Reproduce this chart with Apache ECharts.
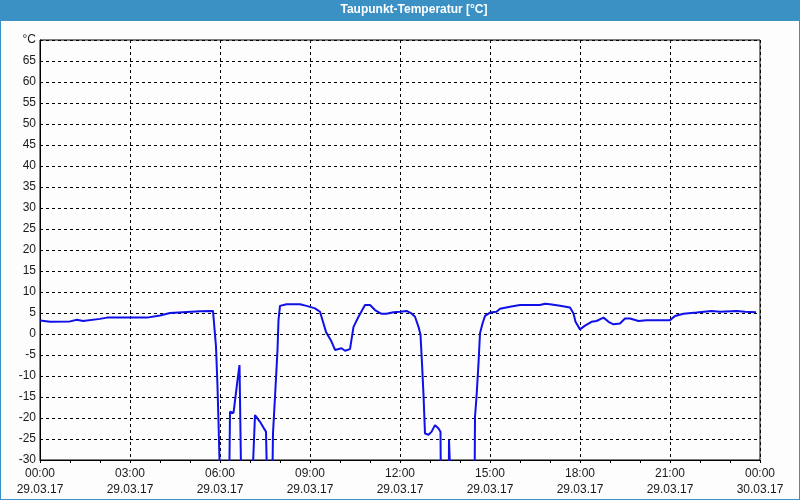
<!DOCTYPE html>
<html>
<head>
<meta charset="utf-8">
<script src="https://cdn.jsdelivr.net/npm/echarts@6/dist/echarts.min.js"></script>
<style>
html,body{margin:0;padding:0;background:#fcfdfc;}
#c{width:800px;height:500px;}
</style>
</head>
<body>
<div id="c"></div>
<script>
// Time in minutes since 29.03.17 00:00
var times = [0,20,60,74,86,120,134,214,240,260,320,346,350,352,355,357,359,362,
  378,380,387,391,395,399,401,403,
  423,430,440,448,452,455,
  464,466,470,475,477,480,493,520,533,550,560,567,572,583,590,603,610,620,627,637,650,660,670,683,693,707,720,733,743,750,757,761,764,767,770,777,783,790,797,801,802,
  817.5,818,822,822.5,
  869,870,873,877,880,885,890,900,913,920,940,960,1000,1010,1020,1040,1060,1067,1071,1080,1090,1103,1113,1127,1137,1147,1160,1170,1180,1197,1213,1260,1270,1287,1313,1343,1360,1393,1410,1432];
// Dew point in °C (values below -30 are off the chart)
var values = [3.2,2.9,3.0,3.4,3.1,3.6,3.9,3.9,4.4,5.0,5.4,5.5,5.5,-3,-12.5,-21,-30,-40,
  -40,-18.5,-18.8,-14.9,-11,-7.4,-7.8,-40,
  -40,-19.3,-20.9,-22.5,-23.3,-40,
  -40,-23.6,-15,-3.8,3.3,6.7,7.1,7.1,6.7,6.1,5.3,2.5,0.5,-1.8,-3.8,-3.4,-4.0,-3.6,1.7,4.1,6.9,6.9,5.7,4.8,4.8,5.2,5.3,5.5,4.9,4.1,1.7,-0.2,-7,-14.5,-23.7,-24,-23.3,-21.7,-22.5,-23.3,-40,
  -40,-25.2,-25.2,-40,
  -40,-19.7,-15,-7,0.2,2.5,4.3,5.1,5.3,6.0,6.5,6.9,6.9,7.2,7.1,6.7,6.3,4.9,2.9,1.1,2.0,2.9,3.1,3.9,2.9,2.3,2.5,3.7,3.7,3.1,3.3,3.3,4.3,4.8,5.1,5.5,5.3,5.5,5.3,5.2];
var dateLabels = ['29.03.17','30.03.17'];
var titleText = 'Taupunkt-Temperatur [°C]';
var unitLabel = '°C';

var data = times.map(function(t,i){return [t, values[i]];});
function pad(n){return (n<10?'0':'')+n;}

var chart = echarts.init(document.getElementById('c'), null, {renderer:'canvas'});
chart.setOption({
  backgroundColor:'#fcfdfc',
  animation:false,
  graphic:[
    {type:'rect', left:0, top:0, shape:{width:800,height:21}, style:{fill:'#3c91c4'}, z:10},
    {type:'rect', left:0, top:0, shape:{width:1,height:500}, style:{fill:'#3c91c4'}, z:10},
    {type:'rect', left:799, top:0, shape:{width:1,height:500}, style:{fill:'#3c91c4'}, z:10},
    {type:'rect', left:0, top:499, shape:{width:800,height:1}, style:{fill:'#3c91c4'}, z:10},
    {type:'text', x:414, y:10, style:{text:titleText, fill:'#ffffff', font:'bold 12px "Liberation Sans"', textAlign:'center', textVerticalAlign:'middle'}, z:11}
  ],
  grid:{left:40, right:40, top:40, bottom:40, show:true, borderColor:'#000', borderWidth:1, backgroundColor:'transparent'},
  xAxis:{
    type:'value', min:0, max:1440, interval:180,
    axisLine:{show:true, onZero:false, lineStyle:{color:'#000', width:1}},
    axisTick:{show:true, length:3, lineStyle:{color:'#000'}},
    minorTick:{show:true, splitNumber:3, length:3, lineStyle:{color:'#000'}},
    splitLine:{show:true, lineStyle:{color:'#000', type:[3,3], width:1}},
    axisLabel:{
      margin:6, lineHeight:16, color:'#1a1a1a', fontFamily:'Liberation Sans', fontSize:12,
      formatter:function(v){var h=Math.floor(v/60)%24; return pad(h)+':00\n'+(v>=1440?dateLabels[1]:dateLabels[0]);}
    }
  },
  yAxis:{
    type:'value', min:-30, max:70, interval:5,
    axisLine:{show:true, onZero:false, lineStyle:{color:'#000', width:1}},
    axisTick:{show:false},
    splitLine:{show:true, lineStyle:{color:'#000', type:[3,3], width:1}},
    axisLabel:{
      margin:4, color:'#1a1a1a', fontFamily:'Liberation Sans', fontSize:12,
      formatter:function(v){return v===70?unitLabel:String(v);}
    }
  },
  series:[{
    type:'line', data:data, showSymbol:false, symbol:'none', clip:true,
    lineStyle:{color:'#1010e8', width:2}, z:5
  }]
});
</script>
</body>
</html>
